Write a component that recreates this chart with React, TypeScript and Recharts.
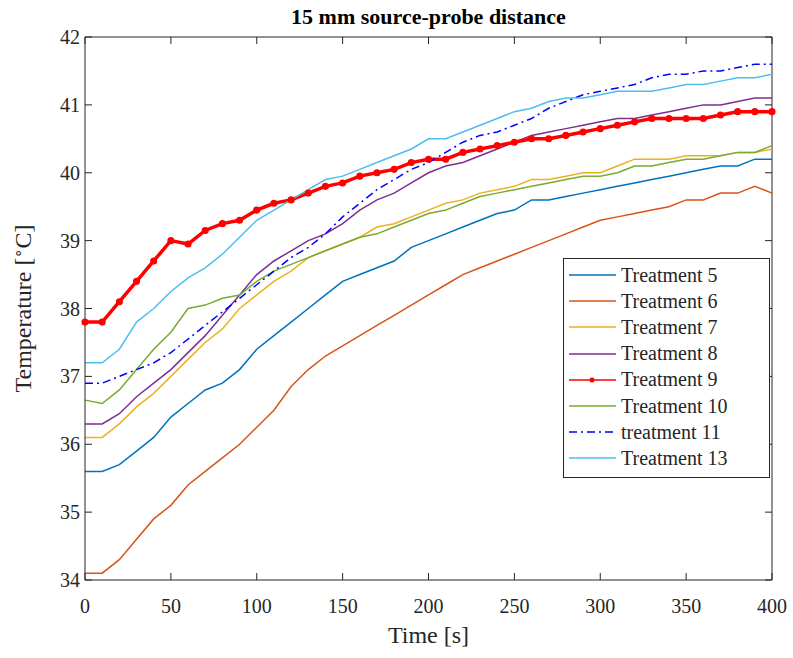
import { LineChart, Line, XAxis, YAxis, Legend, ReferenceLine } from 'recharts';

// time axis (s), sampled every 10 s
const times = [0, 10, 20, 30, 40, 50, 60, 70, 80, 90, 100, 110, 120, 130, 140, 150, 160, 170, 180, 190, 200,
  210, 220, 230, 240, 250, 260, 270, 280, 290, 300, 310, 320, 330, 340, 350, 360, 370, 380, 390, 400];

const treatment5 = [35.6, 35.6, 35.7, 35.9, 36.1, 36.4, 36.6, 36.8, 36.9, 37.1, 37.4, 37.6, 37.8, 38.0, 38.2, 38.4, 38.5, 38.6, 38.7, 38.9, 39.0,
  39.1, 39.2, 39.3, 39.4, 39.45, 39.6, 39.6, 39.65, 39.7, 39.75, 39.8, 39.85, 39.9, 39.95, 40.0, 40.05, 40.1, 40.1, 40.2, 40.2];
const treatment6 = [34.1, 34.1, 34.3, 34.6, 34.9, 35.1, 35.4, 35.6, 35.8, 36.0, 36.25, 36.5, 36.85, 37.1, 37.3, 37.45, 37.6, 37.75, 37.9, 38.05, 38.2,
  38.35, 38.5, 38.6, 38.7, 38.8, 38.9, 39.0, 39.1, 39.2, 39.3, 39.35, 39.4, 39.45, 39.5, 39.6, 39.6, 39.7, 39.7, 39.8, 39.7];
const treatment7 = [36.1, 36.1, 36.3, 36.55, 36.75, 37.0, 37.25, 37.5, 37.7, 38.0, 38.2, 38.4, 38.55, 38.75, 38.85, 38.95, 39.05, 39.2, 39.25, 39.35, 39.45,
  39.55, 39.6, 39.7, 39.75, 39.8, 39.9, 39.9, 39.95, 40.0, 40.0, 40.1, 40.2, 40.2, 40.2, 40.25, 40.25, 40.25, 40.3, 40.3, 40.35];
const treatment8 = [36.3, 36.3, 36.45, 36.7, 36.9, 37.1, 37.35, 37.6, 37.9, 38.2, 38.5, 38.7, 38.85, 39.0, 39.1, 39.25, 39.45, 39.6, 39.7, 39.85, 40.0,
  40.1, 40.15, 40.25, 40.35, 40.45, 40.55, 40.6, 40.65, 40.7, 40.75, 40.8, 40.8, 40.85, 40.9, 40.95, 41.0, 41.0, 41.05, 41.1, 41.1];
const treatment9 = [37.8, 37.8, 38.1, 38.4, 38.7, 39.0, 38.95, 39.15, 39.25, 39.3, 39.45, 39.55, 39.6, 39.7, 39.8, 39.85, 39.95, 40.0, 40.05, 40.15, 40.2,
  40.2, 40.3, 40.35, 40.4, 40.45, 40.5, 40.5, 40.55, 40.6, 40.65, 40.7, 40.75, 40.8, 40.8, 40.8, 40.8, 40.85, 40.9, 40.9, 40.9];
const treatment10 = [36.65, 36.6, 36.8, 37.1, 37.4, 37.65, 38.0, 38.05, 38.15, 38.2, 38.4, 38.55, 38.65, 38.75, 38.85, 38.95, 39.05, 39.1, 39.2, 39.3, 39.4,
  39.45, 39.55, 39.65, 39.7, 39.75, 39.8, 39.85, 39.9, 39.95, 39.95, 40.0, 40.1, 40.1, 40.15, 40.2, 40.2, 40.25, 40.3, 40.3, 40.4];
const treatment11 = [36.9, 36.9, 37.0, 37.1, 37.2, 37.35, 37.55, 37.75, 37.95, 38.15, 38.35, 38.55, 38.75, 38.9, 39.1, 39.35, 39.55, 39.75, 39.9, 40.05, 40.15,
  40.3, 40.45, 40.55, 40.6, 40.7, 40.8, 40.95, 41.05, 41.15, 41.2, 41.25, 41.3, 41.4, 41.45, 41.45, 41.5, 41.5, 41.55, 41.6, 41.6];
const treatment13 = [37.2, 37.2, 37.4, 37.8, 38.0, 38.25, 38.45, 38.6, 38.8, 39.05, 39.3, 39.45, 39.6, 39.75, 39.9, 39.95, 40.05, 40.15, 40.25, 40.35, 40.5,
  40.5, 40.6, 40.7, 40.8, 40.9, 40.95, 41.05, 41.1, 41.1, 41.15, 41.2, 41.2, 41.2, 41.25, 41.3, 41.3, 41.35, 41.4, 41.4, 41.45];

const xTicks = [0, 50, 100, 150, 200, 250, 300, 350, 400];
const yTicks = [34, 35, 36, 37, 38, 39, 40, 41, 42];

const seriesKeys = ['t5', 't6', 't7', 't8', 't9', 't10', 't11', 't13'];
const seriesNames = ['Treatment 5', 'Treatment 6', 'Treatment 7', 'Treatment 8', 'Treatment 9', 'Treatment 10', 'treatment 11', 'Treatment 13'];
const seriesColors = ['#0072BD', '#D95319', '#EDB120', '#7E2F8E', '#FF0000', '#77AC30', '#0000FF', '#4DBEEE'];
const seriesValues = [treatment5, treatment6, treatment7, treatment8, treatment9, treatment10, treatment11, treatment13];

const data = times.map((t, i) => {
  const row: Record<string, number> = { time: t };
  seriesKeys.forEach((k, j) => { row[k] = seriesValues[j][i]; });
  return row;
});

const FONT = '"Liberation Serif", "Times New Roman", serif';
const INK = '#262626';

// plot box edges (px), used for the inward tick marks
const PLOT_LEFT = 85;
const PLOT_RIGHT = 772;
const PLOT_TOP = 37;
const PLOT_BOTTOM = 580;
const TICK_LEN = 7;

function XTick(props: any) {
  const { x, payload } = props;
  return (
    <g>
      <line x1={x} x2={x} y1={PLOT_BOTTOM} y2={PLOT_BOTTOM - TICK_LEN} stroke={INK} />
      <line x1={x} x2={x} y1={PLOT_TOP} y2={PLOT_TOP + TICK_LEN} stroke={INK} />
      <text x={x} y={PLOT_BOTTOM + 33} textAnchor="middle" fontFamily={FONT} fontSize={20} fill={INK}>{payload.value}</text>
    </g>
  );
}

function YTick(props: any) {
  const { y, payload } = props;
  return (
    <g>
      <line x1={PLOT_LEFT} x2={PLOT_LEFT + TICK_LEN} y1={y} y2={y} stroke={INK} />
      <line x1={PLOT_RIGHT} x2={PLOT_RIGHT - TICK_LEN} y1={y} y2={y} stroke={INK} />
      <text x={PLOT_LEFT - 5} y={y} dy="0.35em" textAnchor="end" fontFamily={FONT} fontSize={20} fill={INK}>{payload.value}</text>
    </g>
  );
}

function renderLegend() {
  return (
    <div style={{ border: '1px solid ' + INK, background: '#fff', width: 205, padding: '3px 0 5px 0', fontFamily: FONT, fontSize: 20, color: INK }}>
      {seriesNames.map((name, i) => (
        <div key={name} style={{ display: 'flex', alignItems: 'center', height: 26.2 }}>
          <svg width={57} height={12} style={{ flex: 'none' }}>
            <line x1={5} x2={52} y1={6} y2={6} stroke={seriesColors[i]} strokeWidth={1.5}
              strokeDasharray={seriesKeys[i] === 't11' ? '8 4 2 4' : undefined} />
            {seriesKeys[i] === 't9' && <circle cx={28} cy={6} r={2.5} fill={seriesColors[i]} />}
          </svg>
          <span style={{ whiteSpace: 'nowrap' }}>{name}</span>
        </div>
      ))}
    </div>
  );
}

export default function App() {
  return (
    <div style={{ position: 'absolute', left: 0, top: 0, width: 793, height: 658, background: '#fff' }}>
      <div style={{ position: 'absolute', left: PLOT_LEFT, width: PLOT_RIGHT - PLOT_LEFT, top: 4, textAlign: 'center', fontFamily: FONT, fontWeight: 'bold', fontSize: 22, color: '#000' }}>
        15 mm source-probe distance
      </div>
      <LineChart width={793} height={658} data={data} margin={{ top: PLOT_TOP, right: 793 - PLOT_RIGHT, bottom: 0, left: 0 }}>
        <XAxis dataKey="time" type="number" domain={[0, 400]} ticks={xTicks} height={658 - PLOT_BOTTOM}
          tickLine={false} tickSize={0} tickMargin={0} axisLine={{ stroke: INK }} tick={<XTick />}
          label={({ viewBox }: any) => (
            <text x={viewBox.x + viewBox.width / 2} y={viewBox.y + 63} textAnchor="middle" fontFamily={FONT} fontSize={24} fill={INK}>Time [s]</text>
          )} />
        <YAxis type="number" domain={[34, 42]} ticks={yTicks} width={PLOT_LEFT}
          tickLine={false} tickSize={0} tickMargin={0} axisLine={{ stroke: INK }} tick={<YTick />}
          label={({ viewBox }: any) => {
            const cx = viewBox.x + 31;
            const cy = viewBox.y + viewBox.height / 2;
            return (
              <text x={cx} y={cy} transform={`rotate(-90 ${cx} ${cy})`} textAnchor="middle" fontFamily={FONT} fontSize={24} fill={INK}>
                Temperature [<tspan dy={-8} fontSize={15}>∘</tspan><tspan dy={8}>C]</tspan>
              </text>
            );
          }} />
        <ReferenceLine y={42} stroke={INK} strokeOpacity={1} />
        <ReferenceLine x={400} stroke={INK} strokeOpacity={1} />
        {seriesKeys.map((k, i) => (
          <Line key={k} dataKey={k} name={seriesNames[i]} type="linear" stroke={seriesColors[i]}
            strokeWidth={k === 't9' ? 3.5 : 1.5}
            strokeDasharray={k === 't11' ? '8 4 2 4' : undefined}
            dot={k === 't9' ? { r: 1.8, fill: seriesColors[i], stroke: seriesColors[i] } : false}
            isAnimationActive={false} />
        ))}
        <Legend layout="vertical" align="center" verticalAlign="middle" content={renderLegend}
          wrapperStyle={{ position: 'absolute', left: 563, top: 258, width: 'auto', height: 'auto' }} />
      </LineChart>
    </div>
  );
}
